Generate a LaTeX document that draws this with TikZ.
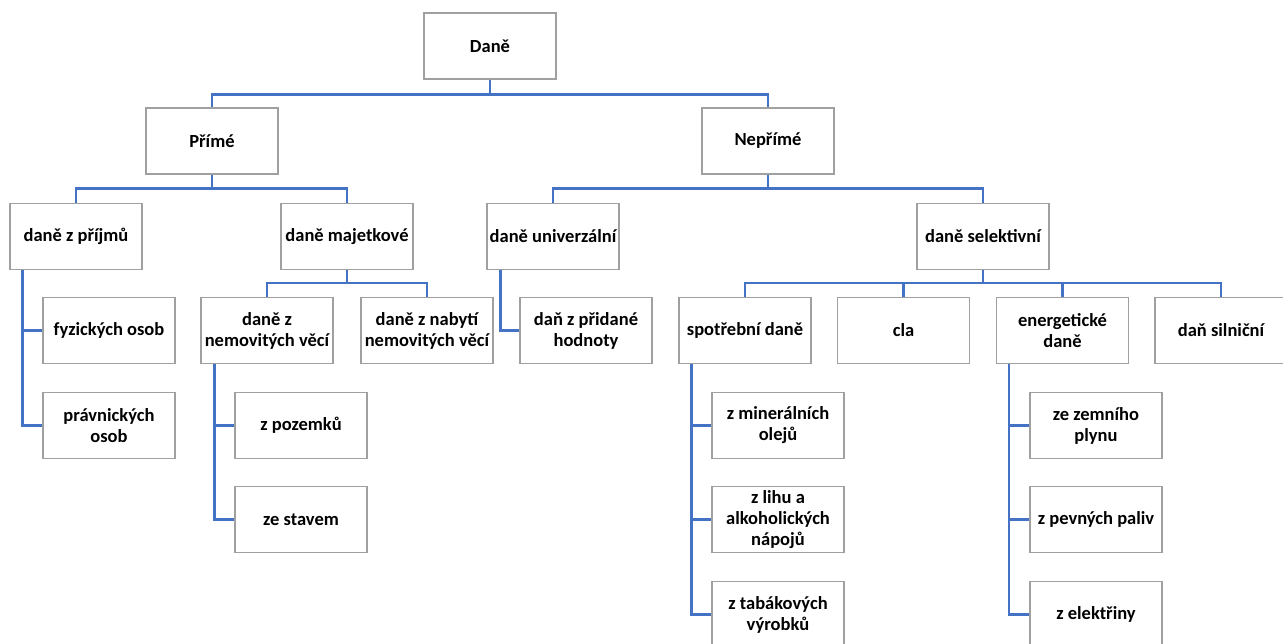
\documentclass[tikz,border=0pt]{standalone}
\usepackage{fontspec}
\setmainfont{Carlito}
\definecolor{linkblue}{RGB}{68,114,196}
\definecolor{boxgray}{RGB}{160,160,160}
\begin{document}
\begin{tikzpicture}[x=1pt,y=-1pt,
  box/.style={draw=boxgray,line width=1.3pt,fill=white,rectangle,
    minimum width=132pt,minimum height=66pt,inner sep=1pt,align=center,
    font=\fontsize{18.5}{21}\selectfont\bfseries},
  link/.style={draw=linkblue,line width=2.4pt}]
\useasboundingbox (0,0) rectangle (1283,644);
% level 1-2
\node[box] (dane) at (490,46) {Daně};
\node[box] (prime) at (212,141) {Přímé};
\node[box] (neprime) at (768,141) {Nepřímé};
% level 3
\node[box] (prijmu) at (76,236.5) {daně z příjmů};
\node[box] (majetk) at (347,236.5) {daně majetkové};
\node[box] (univ) at (553,236.5) {daně univerzální};
\node[box] (selekt) at (983,236.5) {daně selektivní};
% level 4
\node[box] (fyz) at (109,330.5) {fyzických osob};
\node[box] (nemov) at (267,330.5) {daně z\\nemovitých věcí};
\node[box] (nabyti) at (427,330.5) {daně z nabytí\\nemovitých věcí};
\node[box] (dph) at (586,330.5) {daň z přidané\\hodnoty};
\node[box] (spotr) at (745,330.5) {spotřební daně};
\node[box] (cla) at (903.5,330.5) {cla};
\node[box] (energ) at (1062.5,330.5) {energetické\\daně};
\node[box] (silnic) at (1221,330.5) {daň silniční};
% level 5
\node[box] (pravn) at (109,425.5) {právnických\\osob};
\node[box] (pozemku) at (301,425.5) {z pozemků};
\node[box] (minol) at (778,425.5) {z minerálních\\olejů};
\node[box] (zemni) at (1096,425.5) {ze zemního\\plynu};
% level 6
\node[box] (stavem) at (301,519.5) {ze stavem};
\node[box] (lihu) at (778,519.5) {z lihu a\\alkoholických\\nápojů};
\node[box] (pevnych) at (1096,519.5) {z pevných paliv};
% level 7
\node[box] (tabak) at (778,614.5) {z tabákových\\výrobků};
\node[box] (elektr) at (1096,614.5) {z elektřiny};
% bus connectors
\draw[link] (dane.south) -- ++(0,15) -| (prime.north);
\draw[link] (dane.south) -- ++(0,15) -| (neprime.north);
\draw[link] (prime.south) -- ++(0,14) -| (prijmu.north);
\draw[link] (prime.south) -- ++(0,14) -| (majetk.north);
\draw[link] (neprime.south) -- ++(0,14) -| (univ.north);
\draw[link] (neprime.south) -- ++(0,14) -| (selekt.north);
\draw[link] (majetk.south) -- ++(0,13) -| (nemov.north);
\draw[link] (majetk.south) -- ++(0,13) -| (nabyti.north);
\draw[link] (selekt.south) -- ++(0,13) -| (spotr.north);
\draw[link] (selekt.south) -- ++(0,13) -| (cla.north);
\draw[link] (selekt.south) -- ++(0,13) -| (energ.north);
\draw[link] (selekt.south) -- ++(0,13) -| (silnic.north);
% side connectors
\draw[link] ([xshift=13pt]prijmu.south west) |- (fyz.west);
\draw[link] ([xshift=13pt]prijmu.south west) |- (pravn.west);
\draw[link] ([xshift=14pt]nemov.south west) |- (pozemku.west);
\draw[link] ([xshift=14pt]nemov.south west) |- (stavem.west);
\draw[link] ([xshift=14pt]univ.south west) |- (dph.west);
\draw[link] ([xshift=13pt]spotr.south west) |- (minol.west);
\draw[link] ([xshift=13pt]spotr.south west) |- (lihu.west);
\draw[link] ([xshift=13pt]spotr.south west) |- (tabak.west);
\draw[link] ([xshift=13pt]energ.south west) |- (zemni.west);
\draw[link] ([xshift=13pt]energ.south west) |- (pevnych.west);
\draw[link] ([xshift=13pt]energ.south west) |- (elektr.west);
\end{tikzpicture}
\end{document}
